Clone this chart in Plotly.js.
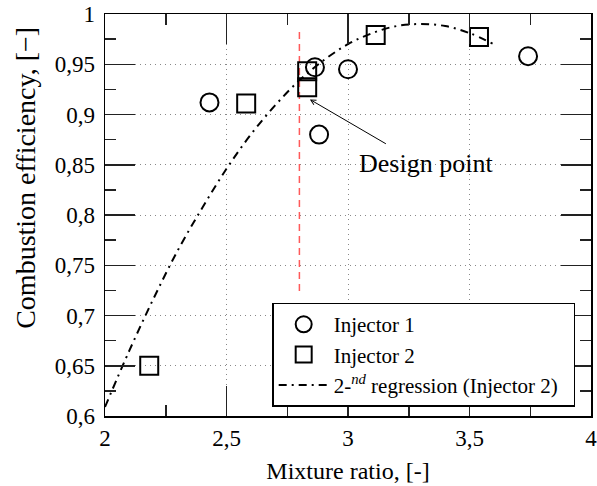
<!DOCTYPE html>
<html>
<head>
<meta charset="utf-8">
<script src="https://cdn.plot.ly/plotly-3.0.1.min.js"></script>
<style>html,body{margin:0;padding:0;background:#fff;}#chart{width:597px;height:486px;}</style>
</head>
<body>
<div id="chart"></div>
<script>
// Injector 1 measurements
const inj1X = [2.43, 2.864, 2.881, 3.0, 3.741];
const inj1Y = [0.912, 0.947, 0.880, 0.945, 0.958];
// Injector 2 measurements
const inj2X = [2.182, 2.581, 2.832, 2.832, 3.114, 3.539];
const inj2Y = [0.650, 0.911, 0.943, 0.927, 0.979, 0.977];
// 2nd-order regression curve (Injector 2)
const regX = [2.0, 2.1, 2.2, 2.3, 2.4, 2.5, 2.6, 2.7, 2.8, 2.9, 3.0, 3.1, 3.2, 3.3, 3.4, 3.5, 3.6];
const regY = [0.609, 0.665, 0.717, 0.765, 0.807, 0.846, 0.880, 0.909, 0.934, 0.954, 0.970, 0.981, 0.988, 0.990, 0.988, 0.981, 0.970];
// Design point marker line
const designX = [2.8, 2.8];
const designY = [0.982, 0.72];
// Tick labels
const xTickVals = [2, 2.5, 3, 3.5, 4];
const xTickText = ["2", "2,5", "3", "3,5", "4"];
const yTickVals = [0.6, 0.65, 0.7, 0.75, 0.8, 0.85, 0.9, 0.95, 1];
const yTickText = ["0,6", "0,65", "0,7", "0,75", "0,8", "0,85", "0,9", "0,95", "1"];
// Annotation
const arrowHead = [2.843, 0.915];
const arrowTail = [3.162, 0.870];
const labelPos = [3.319, 0.851];
const labelText = "Design point";
const yTitle = "Combustion efficiency, [\u2212]";
const xTitle = "Mixture ratio, [-]";

const FONT = '"Liberation Serif", "Times New Roman", serif';

const traces = [
  {x: regX, y: regY, mode: 'lines', type: 'scatter', name: '2-<i><sup>nd</sup></i> regression (Injector 2)\u00a0\u00a0',
   line: {color: '#000', width: 2, dash: '8px,5px,2px,5px', shape: 'spline'}, legendrank: 3},
  {x: designX, y: designY, mode: 'lines', type: 'scatter', showlegend: false,
   line: {color: '#ff5a5a', width: 1.5, dash: '7px,5px'}},
  {x: inj1X, y: inj1Y, mode: 'markers', type: 'scatter', name: 'Injector 1',
   marker: {symbol: 'circle-open', size: 18, color: '#000', line: {width: 2, color: '#000'}}, legendrank: 1},
  {x: inj2X, y: inj2Y, mode: 'markers', type: 'scatter', name: 'Injector 2',
   marker: {symbol: 'square-open', size: 18, color: '#000', line: {width: 2, color: '#000'}}, legendrank: 2}
];

const axCommon = {
  showline: true, linecolor: '#000', linewidth: 1.5, mirror: 'allticks',
  ticks: 'inside', ticklen: 30, tickwidth: 1.5, tickcolor: '#222',
  showgrid: true, gridcolor: '#888', gridwidth: 1, griddash: '1px,4px',
  zeroline: false, tickfont: {family: FONT, size: 23, color: '#000'},
  tickmode: 'array', ticklabeloverflow: 'allow'
};

const layout = {
  width: 597, height: 486,
  margin: {l: 105, r: 6, t: 14, b: 70},
  paper_bgcolor: '#fff', plot_bgcolor: '#fff',
  font: {family: FONT, color: '#000'},
  separators: ', ',
  showlegend: true,
  xaxis: Object.assign({}, axCommon, {
    range: [2, 4], tickvals: xTickVals, ticktext: xTickText,
    minor: {tickmode: 'linear', tick0: 2, dtick: 0.25, ticks: 'inside', ticklen: 11, tickwidth: 1.5, tickcolor: '#222', showgrid: false},
    title: {text: xTitle, font: {family: FONT, size: 24, color: '#000'}, standoff: 12},
    ticklabelstandoff: 1
  }),
  yaxis: Object.assign({}, axCommon, {
    range: [0.6, 1], tickvals: yTickVals, ticktext: yTickText,
    minor: {tickmode: 'linear', tick0: 0.6, dtick: 0.025, ticks: 'inside', ticklen: 11, tickwidth: 1.5, tickcolor: '#222', showgrid: false},
    ticklabelstandoff: 4
  }),
  legend: {
    x: 0.344, y: 0.282, xanchor: 'left', yanchor: 'top',
    bgcolor: '#fff', bordercolor: '#000', borderwidth: 1.5,
    font: {family: FONT, size: 21, color: '#000'},
    traceorder: 'normal', itemwidth: 50
  },
  annotations: [
    {x: arrowHead[0], y: arrowHead[1], xref: 'x', yref: 'y', ax: arrowTail[0], ay: arrowTail[1], axref: 'x', ayref: 'y',
     text: '', showarrow: true, arrowhead: 5, arrowsize: 1, arrowwidth: 1, arrowcolor: '#000'},
    {x: labelPos[0], y: labelPos[1], xref: 'x', yref: 'y', text: labelText, showarrow: false,
     font: {family: FONT, size: 26, color: '#000'}},
    {x: -0.165, y: 0.592, xref: 'paper', yref: 'paper', text: yTitle, showarrow: false, textangle: -90,
     xanchor: 'center', yanchor: 'middle', font: {family: FONT, size: 28, color: '#000'}}
  ]
};

Plotly.newPlot('chart', traces, layout, {displayModeBar: false, staticPlot: true});
</script>
</body>
</html>
